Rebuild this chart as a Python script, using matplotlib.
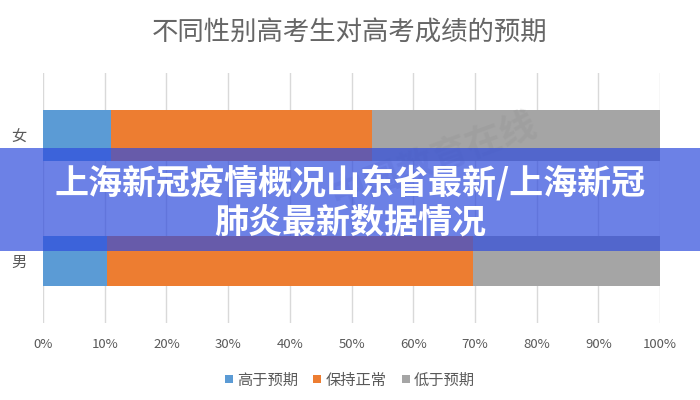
import numpy as np
import matplotlib
matplotlib.use('Agg')
import matplotlib.pyplot as plt
from matplotlib.patches import Rectangle

plt.rcParams['font.family'] = ['Noto Sans CJK SC', 'DejaVu Sans']

# data (bottom to top)
categories = ['男', '女']
high = [10.3, 11.1]
normal = [59.4, 42.2]
low = [30.3, 46.7]
series_names = ['高于预期', '保持正常', '低于预期']
colors = ['#5b9bd5', '#ed7d31', '#a5a5a5']
xticks = list(range(0, 101, 10))

title = '不同性别高考生对高考成绩的预期'
banner_lines = ['上海新冠疫情概况山东省最新/上海新冠', '肺炎最新数据情况']

fig = plt.figure(figsize=(7, 4), dpi=100)
ax = fig.add_axes([0.0614, 0.1925, 0.8815, 0.625])

y = np.arange(len(categories))
left = np.zeros(len(categories))
for vals, name, c in zip([high, normal, low], series_names, colors):
    ax.barh(y, vals, left=left, height=0.4, color=c, label=name, zorder=2)
    left += np.array(vals)

ax.set_xlim(0, 100)
ax.set_ylim(-0.5, 1.5)
ax.set_xticks(xticks)
ax.set_xticklabels([f'{t}%' for t in xticks])
ax.set_yticks(y)
ax.set_yticklabels(categories)
ax.tick_params(axis='x', length=0, pad=11, labelsize=9.5, labelcolor='#595959')
ax.tick_params(axis='y', length=0, pad=12, labelsize=11, labelcolor='#595959')
ax.grid(axis='x', color='#d9d9d9', linewidth=1, zorder=0)
for s in ax.spines.values():
    s.set_visible(False)

fig.text(0.5, 0.917, title, ha='center', va='center', fontsize=19,
         color='#666666', fontweight='light')

# faint watermark
fig.text(0.62, 0.6, '中国教育在线', ha='center', va='center', fontsize=26,
         color='#888888', alpha=0.18, rotation=20, fontweight='bold')

fig.legend(loc='center', bbox_to_anchor=(0.5, 0.05), ncol=3, frameon=False,
           fontsize=11, handlelength=0.5, handleheight=0.5, handletextpad=0.3,
           columnspacing=1.0, labelcolor='#595959')

# banner overlay
fig.patches.append(Rectangle((0, 0.3725), 1, 0.2575, transform=fig.transFigure,
                             facecolor=(48/255, 77/255, 221/255), alpha=0.71,
                             edgecolor='none', zorder=5))
fig.text(0.5, 0.5425, banner_lines[0], ha='center', va='center', fontsize=24.5,
         color='white', fontweight='heavy', zorder=6)
fig.text(0.5, 0.445, banner_lines[1], ha='center', va='center', fontsize=24.5,
         color='white', fontweight='heavy', zorder=6)

plt.savefig('out.png', dpi=100)
